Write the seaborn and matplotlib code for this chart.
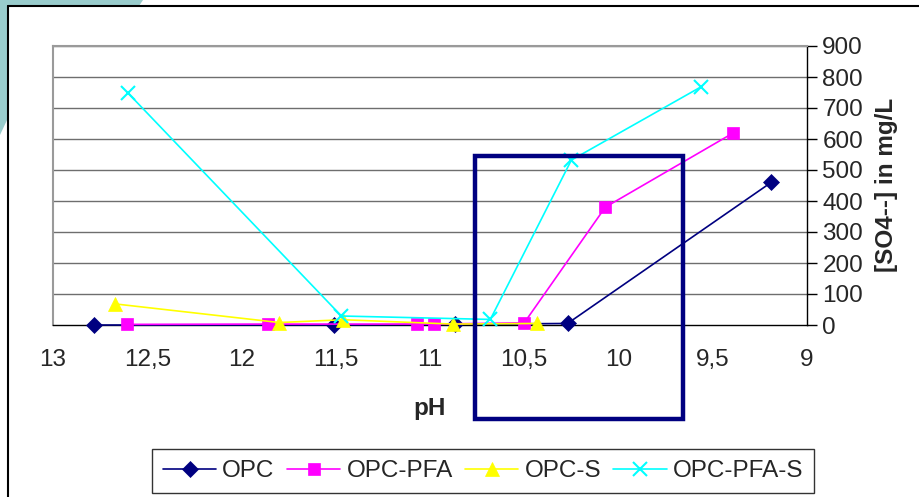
import matplotlib
matplotlib.use("Agg")
import matplotlib.pyplot as plt
from matplotlib.patches import Rectangle, Polygon
from matplotlib.lines import Line2D
import seaborn as sns
import pandas as pd

# pH / sulfate readings per binder
opc_ph = [12.78, 11.51, 10.87, 10.27, 9.19]
opc_so4 = [0, 0, 2, 5, 460]

opc_pfa_ph = [12.61, 11.86, 11.07, 10.98, 10.50, 10.07, 9.39]
opc_pfa_so4 = [2, 3, 3, 3, 7, 380, 620]

opc_s_ph = [12.67, 11.80, 11.46, 10.88, 10.43]
opc_s_so4 = [68, 8, 17, 3, 5]

opc_pfa_s_ph = [12.60, 11.47, 10.68, 10.25, 9.56]
opc_pfa_s_so4 = [747, 29, 18, 532, 769]

series_names = ["OPC", "OPC-PFA", "OPC-S", "OPC-PFA-S"]
x_ticks = [13, 12.5, 12, 11.5, 11, 10.5, 10, 9.5, 9]
x_tick_labels = ["13", "12,5", "12", "11,5", "11", "10,5", "10", "9,5", "9"]
y_ticks = [0, 100, 200, 300, 400, 500, 600, 700, 800, 900]

frames = []
for name, xs, ys in zip(series_names,
                        [opc_ph, opc_pfa_ph, opc_s_ph, opc_pfa_s_ph],
                        [opc_so4, opc_pfa_so4, opc_s_so4, opc_pfa_s_so4]):
    frames.append(pd.DataFrame({"pH": xs, "SO4": ys, "series": name}))
df = pd.concat(frames, ignore_index=True)

colors = {"OPC": "#000080", "OPC-PFA": "#FF00FF", "OPC-S": "#FFFF00", "OPC-PFA-S": "#00FFFF"}
markers = {"OPC": "D", "OPC-PFA": "s", "OPC-S": "^", "OPC-PFA-S": "x"}
msizes = {"OPC": 8, "OPC-PFA": 9, "OPC-S": 10, "OPC-PFA-S": 10}

sns.set_style("white")
plt.rcParams["font.family"] = ["Liberation Sans", "DejaVu Sans"]
FS = 17.5

W, H = 919, 497
fig = plt.figure(figsize=(W / 100, H / 100), dpi=100)
fig.patch.set_facecolor("white")


def fx(px):
    return px / W


def fy(py):
    return 1 - py / H


# slide decoration and chart frame
fig.add_artist(Polygon([(fx(0), fy(0)), (fx(143), fy(0)), (fx(139), fy(6)), (fx(8), fy(6)),
                        (fx(8), fy(118)), (fx(0), fy(135))],
                       closed=True, transform=fig.transFigure, facecolor="#99CCCC",
                       edgecolor="none", zorder=0))
fig.add_artist(Line2D([fx(8), fx(919)], [fy(6), fy(6)], transform=fig.transFigure,
                      color="black", lw=1.5))
fig.add_artist(Line2D([fx(8), fx(8)], [fy(6), fy(497)], transform=fig.transFigure,
                      color="black", lw=1.5))

ax = fig.add_axes([fx(53), fy(325), fx(807) - fx(53), fy(46) - fy(325)])

for name in series_names:
    sub = df[df["series"] == name]
    sns.lineplot(data=sub, x="pH", y="SO4", ax=ax, color=colors[name], marker=markers[name],
                 markersize=msizes[name], markeredgecolor=colors[name],
                 markeredgewidth=1.5 if name == "OPC-PFA-S" else 0.5,
                 linewidth=1.2, label=name, legend=False, zorder=3, clip_on=False)

ax.set_xlim(13, 9)
ax.set_ylim(0, 900)
ax.set_xticks(x_ticks)
ax.set_xticklabels(x_tick_labels, fontsize=FS)
ax.set_yticks(y_ticks)
ax.yaxis.tick_right()
ax.tick_params(axis="y", labelsize=FS, direction="out", length=7, width=1, color="black",
               right=True, left=False, pad=4)
ax.tick_params(axis="x", direction="out", length=8, width=1, color="#555555", pad=9)
ax.set_xlabel("")
ax.set_ylabel("")
ax.grid(False)
for v in y_ticks[1:]:
    ax.axhline(v, color="#6e6e6e", lw=1.0, zorder=1)

for side in ["left", "top"]:
    ax.spines[side].set_color("#9a9a9a")
    ax.spines[side].set_linewidth(1.5)
ax.spines["right"].set_color("black")
ax.spines["right"].set_linewidth(1.0)
ax.spines["bottom"].set_color("black")
ax.spines["bottom"].set_linewidth(1.0)

fig.text(fx(430), fy(408), "pH", fontsize=FS, fontweight="bold", ha="center", va="center")
fig.text(fx(886), fy(185), "[SO4--] in mg/L", fontsize=FS, fontweight="bold",
         rotation=90, ha="center", va="center")

# highlighted pH window
fig.add_artist(Rectangle((fx(475), fy(419)), fx(683) - fx(475), fy(156) - fy(419),
                         transform=fig.transFigure, fill=False, edgecolor="#000080",
                         linewidth=3.2, zorder=10))

handles = [Line2D([0], [0], color=colors[n], marker=markers[n], markersize=msizes[n],
                  markeredgecolor=colors[n], markeredgewidth=1.5 if n == "OPC-PFA-S" else 0.5,
                  linewidth=1.2) for n in series_names]
leg = fig.legend(handles, series_names, loc="center", bbox_to_anchor=(fx(483), fy(471)),
                 ncol=4, fontsize=FS, frameon=True, fancybox=False, edgecolor="black",
                 handlelength=2.2, handletextpad=0.25, columnspacing=0.5, borderpad=0.45,
                 borderaxespad=0)
leg.get_frame().set_linewidth(1.0)

fig.savefig("out.png", dpi=100, facecolor="white")
